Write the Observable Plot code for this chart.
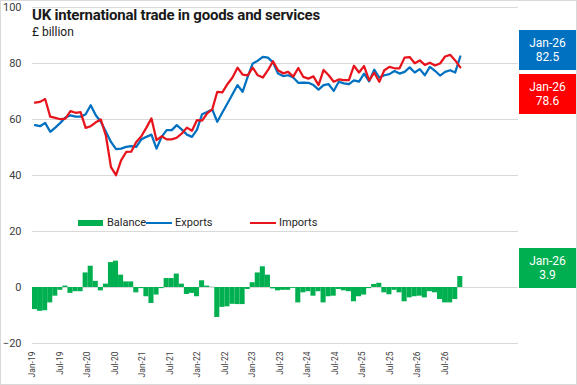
<!DOCTYPE html>
<html>
<head>
<meta charset="utf-8">
<script src="https://cdn.jsdelivr.net/npm/d3@7"></script>
<script src="https://cdn.jsdelivr.net/npm/@observablehq/plot@0.6"></script>
<style>
  html, body { margin: 0; padding: 0; background: #fff; }
  #wrap { position: relative; width: 577px; height: 385px; font-family: Roboto, "Noto Sans", sans-serif; overflow: hidden; }
  #wrap svg { position: absolute; left: 0; top: 0; }
  .abs { position: absolute; white-space: nowrap; }
  .title { left: 32px; top: 8px; font-size: 15px; line-height: 15px; font-weight: 700; color: #1a1a1a; letter-spacing: -0.22px; }
  .sub { left: 32px; top: 26px; font-size: 12px; line-height: 12px; color: #1a1a1a; }
  .leg { font-size: 11px; line-height: 12px; color: #262626; display: flex; align-items: center; top: 217px; }
  .box { left: 519px; width: 57px; height: 40px; box-sizing: border-box; padding-top: 6px; color: #fff; font-size: 12px; line-height: 14px; text-align: center; }
  #border { position: absolute; left: 0; top: 0; width: 577px; height: 385px; box-sizing: border-box; border: 1px solid #d9d9d9; pointer-events: none; }
</style>
</head>
<body>
<div id="wrap"></div>
<script>
// Monthly UK trade, £ billion, Jan-19 .. Jan-26
const exportsV = [58.0,57.6,58.8,55.6,57.1,58.8,60.7,61.5,61.0,61.0,
  61.9,65.1,61.5,59.2,55.6,52.0,49.4,49.6,50.2,50.5,
  50.2,52.9,53.8,54.6,49.6,53.8,56.2,56.2,58.0,56.4,
  54.6,53.8,56.4,61.9,62.7,63.6,59.2,62.5,65.7,69.0,
  72.3,69.9,75.2,80.0,81.0,82.4,82.1,80.4,76.4,75.5,
  75.8,75.0,73.1,73.2,73.1,72.3,70.7,72.3,72.6,70.2,
  73.5,72.9,72.6,74.0,73.5,76.4,73.6,77.8,75.0,75.8,
  76.2,77.3,76.4,77.0,78.6,76.8,78.0,75.8,78.8,77.4,
  75.7,77.0,77.6,76.8,82.5];
const importsV = [66.0,66.3,67.3,61.0,60.6,60.1,60.3,63.0,62.4,62.6,
  57.0,57.6,59.0,60.0,54.2,43.0,40.1,45.4,48.4,48.5,
  52.0,54.0,57.1,60.4,52.6,54.0,52.9,52.9,53.5,55.0,
  57.1,56.0,59.8,59.6,62.2,63.6,69.9,69.7,72.6,75.0,
  78.5,76.0,75.8,78.5,75.8,75.0,77.6,80.8,77.6,76.5,
  77.0,75.3,78.4,75.2,74.6,75.4,72.3,77.7,75.8,73.5,
  74.3,74.1,74.1,79.2,76.8,79.1,74.0,76.7,73.5,77.6,
  78.8,78.3,78.3,82.1,82.3,80.1,81.1,79.5,80.3,79.3,
  80.0,82.5,83.1,81.1,78.6];
const balanceV = [-7.9,-8.5,-8.3,-5.5,-3.1,-1.0,0.5,-2.1,-1.5,-1.5,
  5.2,7.6,2.2,-1.2,1.2,8.9,9.4,4.4,2.0,2.0,
  -1.9,-0.4,-3.3,-5.7,-2.7,-0.4,3.2,3.2,4.8,1.2,
  -2.5,-2.1,-3.3,2.4,0.5,0.1,-10.7,-7.1,-6.9,-6.0,
  -6.1,-6.1,-0.7,1.7,5.2,7.4,4.4,-0.5,-1.2,-1.0,
  -1.0,-0.3,-5.5,-1.9,-1.5,-3.1,-1.5,-5.5,-3.3,-3.1,
  -0.7,-1.2,-1.5,-5.1,-3.3,-2.7,-0.4,1.1,1.5,-1.9,
  -2.6,-1.0,-1.9,-5.1,-3.7,-3.3,-3.1,-3.7,-1.5,-1.9,
  -4.3,-5.5,-5.5,-4.3,3.9];
const months = d3.utcMonth.range(new Date(Date.UTC(2019, 0, 1)), new Date(Date.UTC(2026, 1, 1)));
const xTickLabels = ["Jan-19","Jul-19","Jan-20","Jul-20","Jan-21","Jul-21","Jan-22","Jul-22",
  "Jan-23","Jul-23","Jan-24","Jul-24","Jan-25","Jul-25","Jan-26","Jul-26"];
const yTicks = [-20, 0, 20, 40, 60, 80, 100];
const seriesNames = ["Balance", "Exports", "Imports"];
const colors = {Balance: "#00b050", Exports: "#0070c0", Imports: "#e8141c"};
const boxColors = {Balance: "#00b050", Exports: "#0070c0", Imports: "#ff0000"};

// The label axis is laid out more tightly than the data months (as in the source chart)
const labelStep = 5.43;
const tickPos = xTickLabels.map((_, k) => k * labelStep);

const rows = months.map((m, i) => ({i, month: m, exports: exportsV[i], imports: importsV[i], balance: balanceV[i]}));

const chart = Plot.plot({
  width: 577, height: 385,
  marginLeft: 32, marginRight: 59, marginTop: 7, marginBottom: 42,
  x: {domain: [0, 96]},
  y: {domain: [-20, 100]},
  style: {fontFamily: "Roboto, 'Noto Sans', sans-serif", background: "transparent", overflow: "visible"},
  marks: [
    Plot.gridY(yTicks, {stroke: "#d9d9d9", strokeOpacity: 1, strokeWidth: 1}),
    Plot.axisY(yTicks, {tickSize: 0, tickPadding: 11, fontSize: 11, color: "#404040"}),
    Plot.axisX(tickPos, {tickFormat: d => xTickLabels[tickPos.indexOf(d)], tickRotate: -90, tickSize: 0, tickPadding: 8, fontSize: 8.5, color: "#404040"}),
    Plot.rect(rows, {x1: d => d.i, x2: d => d.i + 1, y1: 0, y2: "balance", fill: colors.Balance}),
    Plot.lineY(rows, {x: d => d.i + 0.5, y: "exports", stroke: colors.Exports, strokeWidth: 2.25}),
    Plot.lineY(rows, {x: d => d.i + 0.5, y: "imports", stroke: colors.Imports, strokeWidth: 2.25})
  ]
});

const wrap = document.getElementById("wrap");
wrap.appendChild(chart);

function add(cls, html, style) {
  const d = document.createElement("div");
  d.className = "abs " + cls;
  d.innerHTML = html;
  if (style) Object.assign(d.style, style);
  wrap.appendChild(d);
  return d;
}
add("title", "UK international trade in goods and services");
add("sub", "£ billion");

// legend
const legLeft = {Balance: 78, Exports: 146, Imports: 250};
seriesNames.forEach(name => {
  const sw = name === "Balance"
    ? `<span style="display:inline-block;width:25px;height:6px;background:${colors[name]};margin-right:4px"></span>`
    : `<span style="display:inline-block;width:26px;height:2.5px;background:${colors[name]};margin-right:3px"></span>`;
  add("leg", sw + name, {left: legLeft[name] + "px"});
});

// end-value boxes
const fmt = d3.utcFormat("%b-%y");
const last = rows[rows.length - 1];
const boxTop = {Exports: 30, Imports: 74, Balance: 248};
const lastVal = {Exports: last.exports, Imports: last.imports, Balance: last.balance};
["Exports", "Imports", "Balance"].forEach(name => {
  add("box", fmt(last.month) + "<br>" + lastVal[name].toFixed(1), {top: boxTop[name] + "px", background: boxColors[name]});
});

const b = document.createElement("div");
b.id = "border";
wrap.appendChild(b);
</script>
</body>
</html>
